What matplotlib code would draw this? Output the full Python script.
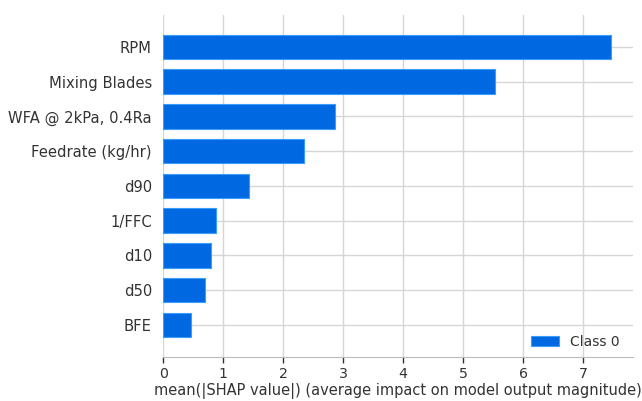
import matplotlib
matplotlib.use("Agg")
import matplotlib.pyplot as plt
import numpy as np

features = ["RPM", "Mixing Blades", "WFA @ 2kPa, 0.4Ra", "Feedrate (kg/hr)",
            "d90", "1/FFC", "d10", "d50", "BFE"]
mean_abs_shap = [7.46, 5.53, 2.86, 2.35, 1.43, 0.88, 0.80, 0.70, 0.47]
xticks = [0, 1, 2, 3, 4, 5, 6, 7]
series_name = "Class 0"

bar_color = "#0068e0"
edge_color = "#3a9cff"
grid_color = "#d6d6d6"

fig = plt.figure(figsize=(6.42, 4.01), dpi=100)
ax = fig.add_axes([0.254, 0.110, 0.732, 0.853])

n = len(features)
y_pos = np.arange(n)[::-1]

ax.set_axisbelow(True)
for x in xticks:
    ax.axvline(x, color=grid_color, lw=1.0, zorder=0)
for y in y_pos:
    ax.axhline(y, color=grid_color, lw=1.0, zorder=0)

ax.barh(y_pos, mean_abs_shap, height=0.7, color=bar_color,
        edgecolor=edge_color, linewidth=0.8, label=series_name, zorder=2)

ax.set_yticks(y_pos)
ax.set_yticklabels(features, fontsize=10.6, color="#333333")
ax.tick_params(axis="y", length=0, pad=8)
ax.set_xticks(xticks)
ax.set_xticklabels([str(t) for t in xticks], fontsize=10.2, color="#333333")
ax.tick_params(axis="x", length=4, width=1, color="#333333", pad=3)

ax.set_xlim(0, 7.83)
ax.set_ylim(-0.92, n - 1 + 0.92)

for s in ("top", "right", "left"):
    ax.spines[s].set_visible(False)
ax.spines["bottom"].set_color("#bbbbbb")

ax.set_xlabel("mean(|SHAP value|) (average impact on model output magnitude)",
              fontsize=10.5, color="#333333", labelpad=2)

ax.legend(loc="lower right", bbox_to_anchor=(0.99, 0.0), frameon=False,
          fontsize=10, labelcolor="#333333", handlelength=2.0,
          borderaxespad=0.2)

fig.savefig("out.png", dpi=100, facecolor="white")
